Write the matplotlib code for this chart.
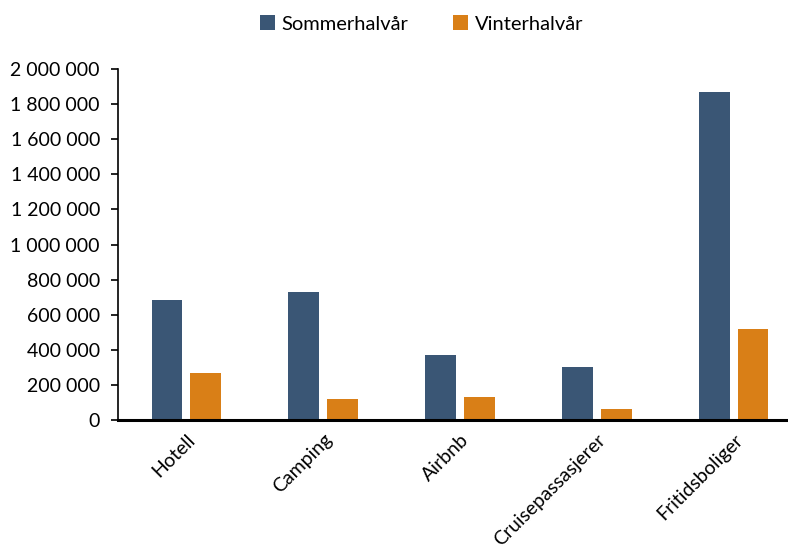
import numpy as np
import matplotlib.pyplot as plt
from matplotlib.ticker import FuncFormatter

plt.rcParams['font.family'] = ['Lato', 'DejaVu Sans']

categories = ['Hotell', 'Camping', 'Airbnb', 'Cruisepassasjerer', 'Fritidsboliger']
sommer = [684000, 729000, 373000, 304000, 1871000]
vinter = [268000, 120000, 133000, 61000, 521000]
series_names = ['Sommerhalvår', 'Vinterhalvår']
colors = ['#3A5675', '#D97F17']

fig = plt.figure(figsize=(7.88, 5.52), dpi=100)
ax = fig.add_axes([118 / 788, 1 - 420 / 552, 684 / 788, (420 - 69) / 552])

x = np.arange(len(categories))
w = 0.226
ax.bar(x - 0.142, sommer, width=w, color=colors[0], label=series_names[0])
ax.bar(x + 0.142, vinter, width=w, color=colors[1], label=series_names[1])

ax.set_xlim(-0.5, 4.5)
ax.set_ylim(0, 2000000)
ax.set_yticks(np.arange(0, 2000001, 200000))
ax.yaxis.set_major_formatter(FuncFormatter(lambda v, p: f'{int(v):,}'.replace(',', ' ')))
ax.tick_params(axis='y', direction='out', length=5, width=1.2, labelsize=14, pad=8)
ax.set_xticks(x)
ax.set_xticklabels(categories, rotation=45, ha='right', rotation_mode='anchor', fontsize=14)
ax.tick_params(axis='x', length=0, pad=8)

for s in ['top', 'right']:
    ax.spines[s].set_visible(False)
ax.spines['left'].set_linewidth(1.2)
ax.spines['bottom'].set_linewidth(2.2)

fig.legend(loc='upper center', bbox_to_anchor=(0.535, 1.005), ncol=2, frameon=False,
           fontsize=14.5, handlelength=0.75, handleheight=0.75, columnspacing=2.2, handletextpad=0.35)

fig.savefig('out.png', dpi=100)
